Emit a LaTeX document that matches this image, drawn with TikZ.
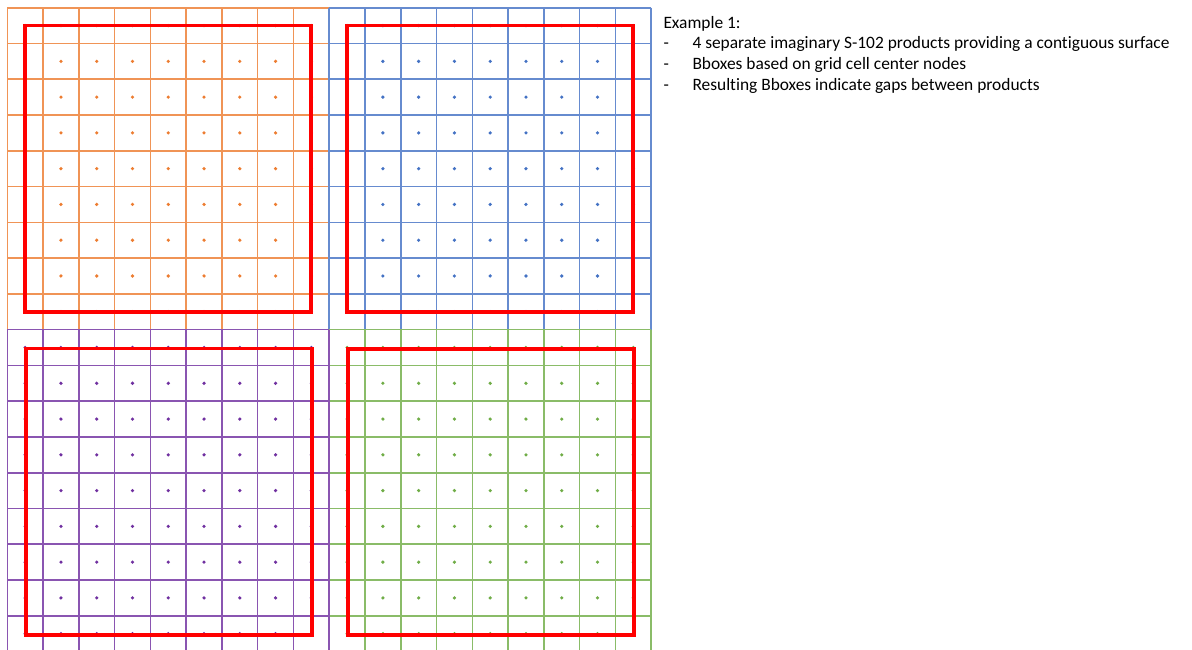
\documentclass[tikz,border=0pt]{standalone}
\usepackage{fontspec}
\setmainfont{Carlito}[Ligatures=NoCommon]
\definecolor{cOrange}{RGB}{237,125,49}
\definecolor{cBlue}{RGB}{68,114,196}
\definecolor{cGreen}{RGB}{112,173,71}
\definecolor{cPurple}{RGB}{112,48,160}
\def\gsz{35.77}
\tikzset{
  gridline/.style={line width=1.6pt},
  redbox/.style={draw=red, line width=3.8pt, line join=miter},
  txt/.style={anchor=base west, inner sep=0pt, font=\fontsize{17.4}{20}\selectfont},
}
\begin{document}
\begin{tikzpicture}[x=1pt,y=-1pt]
\useasboundingbox (0,0) rectangle (1192,649);
\fill[white] (0,0) rectangle (1192,649);
\begin{scope}
\clip (0,0) rectangle (1192,649);
\foreach \gx/\gy/\c in {0/0/cOrange, 9/0/cBlue, 9/9/cGreen, 0/9/cPurple} {
  \begin{scope}[shift={(7.3+\gx*\gsz, 7.7+\gy*\gsz)}]
    \foreach \i in {0,...,9} {
      \draw[gridline, color=\c!82!white] (\i*\gsz, 0) -- (\i*\gsz, 9*\gsz);
      \draw[gridline, color=\c!82!white] (0, \i*\gsz) -- (9*\gsz, \i*\gsz);
    }
    \foreach \i in {0,...,8} {
      \foreach \j in {0,...,8} {
        \fill[\c] (\i*\gsz+0.5*\gsz, \j*\gsz+0.5*\gsz) circle (1.8pt);
      }
    }
  \end{scope}
}
% bounding boxes through outermost cell centre nodes
\draw[redbox] (7.3+0.5*\gsz, 7.7+0.5*\gsz) rectangle +(8*\gsz, 8*\gsz);
\draw[redbox] (7.3+9.5*\gsz, 7.7+0.5*\gsz) rectangle +(8*\gsz, 8*\gsz);
\draw[redbox] (8.3+0.5*\gsz, 8.7+9.5*\gsz) rectangle +(8*\gsz, 8*\gsz);
\draw[redbox] (7.8+9.5*\gsz, 9.2+9.5*\gsz) rectangle +(8*\gsz, 8*\gsz);
\end{scope}
\node[txt] (title) at (663.3, 28.3) {Example 1:};
\node[txt] (d1) at (663.3, 48.6) {-};
\node[txt] (l1) at (692.3, 48.6) {4 separate imaginary S-102 products providing a contiguous surface};
\node[txt] (d2) at (663.3, 69.6) {-};
\node[txt] (l2) at (692.3, 69.6) {Bboxes based on grid cell center nodes};
\node[txt] (d3) at (663.3, 90.6) {-};
\node[txt] (l3) at (692.3, 90.6) {Resulting Bboxes indicate gaps between products};
\end{tikzpicture}
\end{document}
